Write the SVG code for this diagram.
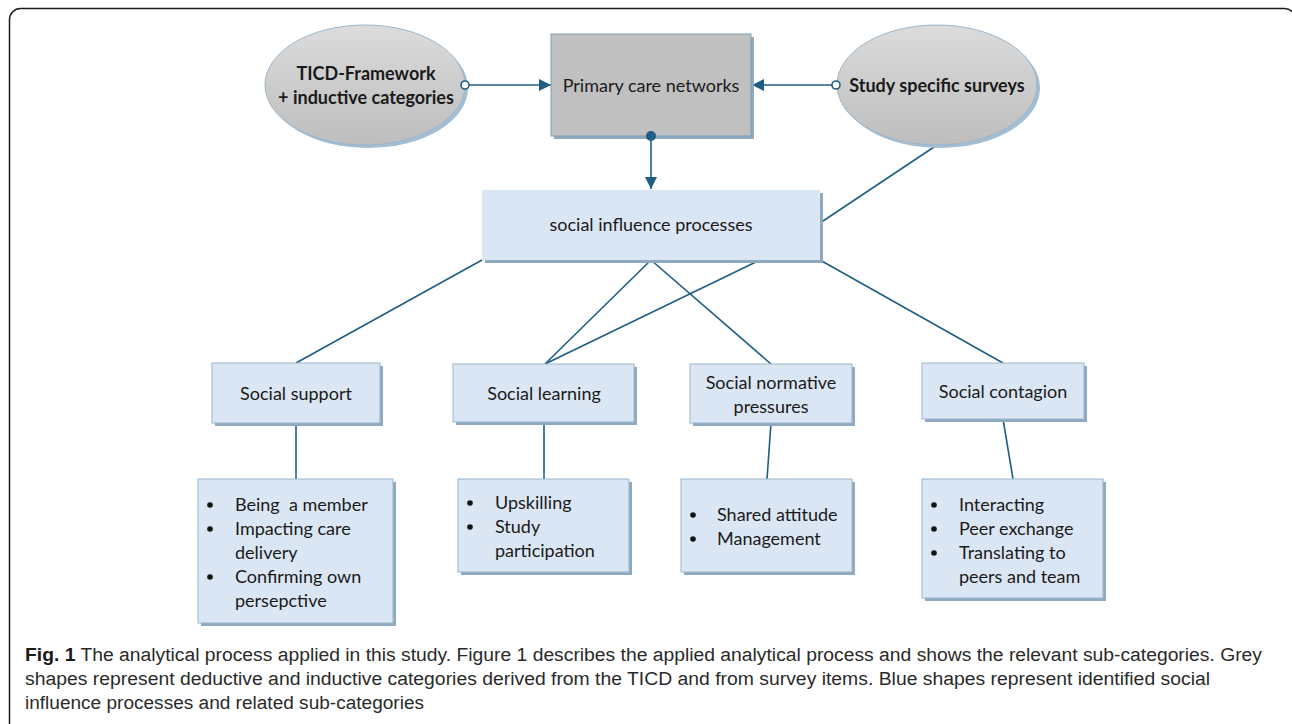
<svg xmlns="http://www.w3.org/2000/svg" width="1292" height="724" viewBox="0 0 1292 724">
<defs>
<linearGradient id="grey" x1="0" y1="0" x2="0" y2="1">
<stop offset="0" stop-color="#dcdcdc"/>
<stop offset="1" stop-color="#bdbdbd"/>
</linearGradient>
<marker id="arr" viewBox="0 0 12 12" refX="12" refY="6" markerWidth="12" markerHeight="12" markerUnits="userSpaceOnUse" orient="auto">
<path d="M0,0 L12,6 L0,12 z" fill="#1f5d84"/>
</marker>
</defs>
<style>
.t{font-family:Lato,"Liberation Sans",sans-serif;font-size:18px;fill:#1a1a1a}
.b{font-weight:bold}
.blue{fill:#dbe6f4;stroke:#9ab6cc;stroke-width:1}
.sh{fill:#8faac0}
.gsh{fill:#a3bdd2}
.con{fill:none;stroke:#1f5d84;stroke-width:1.6}
.oc{fill:#fff;stroke:#1f5d84;stroke-width:1.6}
.fc{fill:#1f5d84}
.cap{font-family:"Liberation Sans Narrow","Liberation Sans",sans-serif;font-size:18px;fill:#2a2a2a}
.dot{fill:#111}
</style>
<rect x="9.5" y="8.5" width="1286" height="740" rx="11" fill="#fff" stroke="#1a1a1a" stroke-width="1.5"/>

<g id="connectors">
<line class="con" x1="469" y1="85" x2="551" y2="85" marker-end="url(#arr)"/>
<line class="con" x1="832" y1="85" x2="752" y2="85" marker-end="url(#arr)"/>
<line class="con" x1="651" y1="136" x2="651" y2="189" marker-end="url(#arr)"/>
<line class="con" x1="937" y1="145" x2="820" y2="223"/>
<line x1="820" y1="223" x2="820" y2="260" stroke="#1f5d84" stroke-width="2.6"/>
<line class="con" x1="482" y1="260" x2="296" y2="363"/>
<line class="con" x1="651" y1="260" x2="545" y2="364"/>
<line class="con" x1="651" y1="260" x2="771" y2="364"/>
<line class="con" x1="760" y1="260" x2="545" y2="364"/>
<line class="con" x1="820" y1="260" x2="1003" y2="363"/>
<line class="con" x1="296" y1="423" x2="296" y2="479"/>
<line class="con" x1="544" y1="422" x2="544" y2="479"/>
<line class="con" x1="771" y1="423" x2="767" y2="479"/>
<line class="con" x1="1003" y1="419" x2="1013" y2="479"/>
</g>

<g id="ticd">
<ellipse class="gsh" cx="368" cy="88" rx="100" ry="60"/>
<ellipse cx="365" cy="85" rx="100" ry="60" fill="url(#grey)" stroke="#9ab6cc" stroke-width="1"/>
<text class="t b" x="366" y="80" text-anchor="middle">TICD-Framework</text>
<text class="t b" x="366" y="104" text-anchor="middle">+ inductive categories</text>
</g>

<g id="primary">
<rect class="sh" x="554" y="37" width="200" height="102"/>
<rect x="551" y="34" width="200" height="102" fill="#c0c0c0" stroke="#7f9fb5" stroke-width="1"/>
<text class="t" x="651" y="92" text-anchor="middle">Primary care networks</text>
</g>

<g id="surveys">
<ellipse class="gsh" cx="940" cy="88" rx="100" ry="60"/>
<ellipse cx="937" cy="85" rx="100" ry="60" fill="url(#grey)" stroke="#9ab6cc" stroke-width="1"/>
<text class="t b" x="937" y="92" text-anchor="middle">Study specific surveys</text>
</g>

<g id="connector-ends">
<circle class="oc" cx="465" cy="85" r="4"/>
<circle class="oc" cx="836" cy="85" r="4"/>
<circle class="fc" cx="651" cy="136" r="5"/>
</g>

<g id="social-influence">
<rect class="sh" x="485" y="193" width="338" height="70"/>
<rect x="482" y="190" width="338" height="70" fill="#dbe6f4"/>
<text class="t" x="651" y="231" text-anchor="middle">social influence processes</text>
</g>

<g id="social-support">
<rect class="sh" x="215" y="366" width="168" height="60"/>
<rect class="blue" x="212" y="363" width="168" height="60"/>
<text class="t" x="296" y="400" text-anchor="middle">Social support</text>
</g>

<g id="social-learning">
<rect class="sh" x="456" y="367" width="181" height="58"/>
<rect class="blue" x="453" y="364" width="181" height="58"/>
<text class="t" x="544" y="400" text-anchor="middle">Social learning</text>
</g>

<g id="social-normative">
<rect class="sh" x="693" y="367" width="162" height="59"/>
<rect class="blue" x="690" y="364" width="162" height="59"/>
<text class="t" x="771" y="389" text-anchor="middle">Social normative</text>
<text class="t" x="771" y="413" text-anchor="middle">pressures</text>
</g>

<g id="social-contagion">
<rect class="sh" x="925" y="366" width="162" height="56"/>
<rect class="blue" x="922" y="363" width="162" height="56"/>
<text class="t" x="1003" y="398" text-anchor="middle">Social contagion</text>
</g>

<g id="support-list">
<rect class="sh" x="201" y="482" width="195" height="144"/>
<rect class="blue" x="198" y="479" width="195" height="144"/>
<circle class="dot" cx="210" cy="505" r="2.8"/>
<circle class="dot" cx="210" cy="529" r="2.8"/>
<circle class="dot" cx="210" cy="577" r="2.8"/>
<text class="t" x="235" y="511" xml:space="preserve">Being  a member</text>
<text class="t" x="235" y="535">Impacting care</text>
<text class="t" x="235" y="559">delivery</text>
<text class="t" x="235" y="583">Confirming own</text>
<text class="t" x="235" y="607">persepctive</text>
</g>

<g id="learning-list">
<rect class="sh" x="461" y="482" width="171" height="93"/>
<rect class="blue" x="458" y="479" width="171" height="93"/>
<circle class="dot" cx="470" cy="503" r="2.8"/>
<circle class="dot" cx="470" cy="527" r="2.8"/>
<text class="t" x="495" y="509">Upskilling</text>
<text class="t" x="495" y="533">Study</text>
<text class="t" x="495" y="557">participation</text>
</g>

<g id="normative-list">
<rect class="sh" x="684" y="482" width="171" height="93"/>
<rect class="blue" x="681" y="479" width="171" height="93"/>
<circle class="dot" cx="693" cy="515" r="2.8"/>
<circle class="dot" cx="693" cy="539" r="2.8"/>
<text class="t" x="717" y="521">Shared attitude</text>
<text class="t" x="717" y="545">Management</text>
</g>

<g id="contagion-list">
<rect class="sh" x="925" y="482" width="181" height="119"/>
<rect class="blue" x="922" y="479" width="181" height="119"/>
<circle class="dot" cx="934" cy="505" r="2.8"/>
<circle class="dot" cx="934" cy="529" r="2.8"/>
<circle class="dot" cx="934" cy="553" r="2.8"/>
<text class="t" x="959" y="511">Interacting</text>
<text class="t" x="959" y="535">Peer exchange</text>
<text class="t" x="959" y="559">Translating to</text>
<text class="t" x="959" y="583">peers and team</text>
</g>

<g id="caption">
<text class="cap" x="25" y="661" textLength="1237" lengthAdjust="spacingAndGlyphs"><tspan font-weight="bold" fill="#1a1a1a">Fig. 1</tspan> The analytical process applied in this study. Figure 1 describes the applied analytical process and shows the relevant sub-categories. Grey</text>
<text class="cap" x="25" y="685" textLength="1185" lengthAdjust="spacingAndGlyphs">shapes represent deductive and inductive categories derived from the TICD and from survey items. Blue shapes represent identified social</text>
<text class="cap" x="25" y="709" textLength="399" lengthAdjust="spacingAndGlyphs">influence processes and related sub-categories</text>
</g>
</svg>
